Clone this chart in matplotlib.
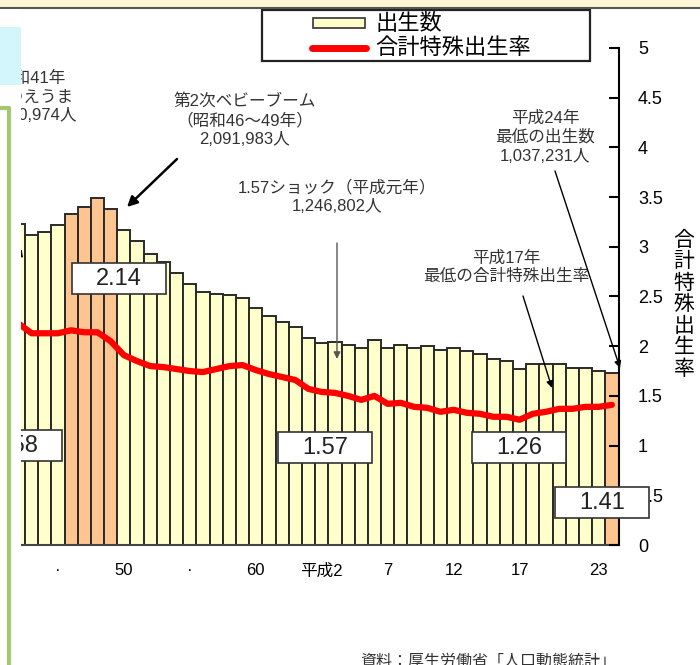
import matplotlib
matplotlib.use("Agg")
import matplotlib.pyplot as plt
from matplotlib.patches import Rectangle, FancyArrowPatch
from matplotlib.lines import Line2D

plt.rcParams['font.family'] = ['Liberation Sans', 'Noto Sans CJK JP']

# births (bars) and total fertility rate (line), 1967-2012
years = list(range(1967, 2013))
births = [1935647, 1871839, 1889815, 1934239, 2000973, 2038682, 2091983, 2029989,
          1901440, 1832617, 1755100, 1708643, 1642580, 1576889, 1529455, 1515392,
          1508687, 1489780, 1431577, 1382946, 1346658, 1314006, 1246802, 1221585,
          1223245, 1208989, 1188282, 1238328, 1187064, 1206555, 1191665, 1203147,
          1177669, 1190547, 1170662, 1153855, 1123610, 1110721, 1062530, 1092674,
          1089818, 1091156, 1070035, 1071304, 1050806, 1037231]
tfr = [2.23, 2.13, 2.13, 2.13, 2.16, 2.14, 2.14, 2.05, 1.91, 1.85, 1.80, 1.79,
       1.77, 1.75, 1.74, 1.77, 1.80, 1.81, 1.76, 1.72, 1.69, 1.66, 1.57, 1.54,
       1.53, 1.50, 1.46, 1.50, 1.42, 1.43, 1.39, 1.38, 1.34, 1.36, 1.33, 1.32,
       1.29, 1.29, 1.26, 1.32, 1.34, 1.37, 1.37, 1.39, 1.39, 1.41]
highlight_years = [1971, 1972, 1973, 1974, 2012]

tick_years = [1970, 1975, 1980, 1985, 1990, 1995, 2000, 2005, 2011]
tick_labels = ['·', '50', '·', '60', '平成2', '7', '12', '17', '23']

W, H = 700, 665


def fx(x):
    return x / W


def fy(y):
    return 1 - y / H


fig = plt.figure(figsize=(7, 6.65), dpi=100)
ax = fig.add_axes([fx(21), fy(545), (618.5 - 21) / W, (545 - 48) / H])

colors = ['#FFC590' if y in highlight_years else '#FFFFCC' for y in years]
ax.bar(years, births, width=1.0, color=colors, edgecolor='#2a2a2a', linewidth=1.4)
ax.set_xlim(1967.2, 2012.5)
ax.set_ylim(0, 3000000)
ax.set_yticks([])
for s in ['left', 'right', 'top']:
    ax.spines[s].set_visible(False)
ax.spines['bottom'].set_color('#444444')
ax.spines['bottom'].set_linewidth(1.5)
ax.set_xticks(tick_years)
ax.set_xticklabels(tick_labels, fontsize=12)
ax.tick_params(axis='x', length=0, pad=13)

ax2 = ax.twinx()
ax2.plot(years, tfr, color='#FF0000', linewidth=4.5,
         solid_joinstyle='round', solid_capstyle='round')
ax2.set_ylim(0, 5)
ax2.set_yticks([0, 0.5, 1, 1.5, 2, 2.5, 3, 3.5, 4, 4.5, 5])
ax2.set_yticklabels(['0', '0.5', '1', '1.5', '2', '2.5', '3', '3.5', '4', '4.5', '5'])
ax2.tick_params(axis='y', direction='in', length=7, width=1.5, pad=14, labelsize=13)
for s in ['left', 'top', 'bottom']:
    ax2.spines[s].set_visible(False)
ax2.spines['right'].set_linewidth(1.5)

# vertical axis title, one character per row
for i, ch in enumerate('合計特殊出生率'):
    fig.text(fx(684), fy(240 + i * 21.5), ch, ha='center', va='center', fontsize=15)

# value boxes
boxes = [(-32, 430, '1.58'), (72, 263, '2.14'), (278, 432, '1.57'),
         (472, 432, '1.26'), (555, 487, '1.41')]
for bx, by, label in boxes:
    fig.add_artist(Rectangle((fx(bx), fy(by + 31)), 94 / W, 31 / H,
                             transform=fig.transFigure, facecolor='white',
                             edgecolor='#333333', linewidth=1.2, zorder=4))
    fig.text(fx(bx + 47), fy(by + 16), label, ha='center', va='center',
             fontsize=17, color='#222222', zorder=5)

# annotations
txt = dict(ha='center', va='center', fontsize=12, color='#333333', linespacing=1.3, zorder=5)
fig.text(fx(32), fy(97), '昭和41年\nひのえうま\n1,360,974人', **txt)
fig.text(fx(245), fy(120), '第2次ベビーブーム\n（昭和46～49年）\n2,091,983人', **txt)
fig.text(fx(337), fy(197), '1.57ショック（平成元年）\n1,246,802人', **txt)
fig.text(fx(506), fy(267), '平成17年\n最低の合計特殊出生率', **txt)
fig.text(fx(545), fy(137), '平成24年\n最低の出生数\n1,037,231人', **txt)


def arrow(x0, y0, x1, y1, color='black', lw=1.0, ms=10):
    fig.add_artist(FancyArrowPatch(
        (fx(x0), fy(y0)), (fx(x1), fy(y1)), transform=fig.transFigure,
        arrowstyle='-|>', mutation_scale=ms, color=color, linewidth=lw,
        shrinkA=0, shrinkB=0, zorder=6))


arrow(177, 159, 127, 207, lw=1.8, ms=15)
arrow(337, 243, 337, 359, color='#555555', lw=1.0, ms=10)
arrow(523, 296, 552, 388, lw=1.0, ms=10)
arrow(555, 171, 620, 368, lw=1.0, ms=10)
arrow(5, 232, 23, 258, lw=1.0, ms=10)

# legend
fig.add_artist(Rectangle((fx(262), fy(61)), (590 - 262) / W, 51 / H,
                         transform=fig.transFigure, facecolor='white',
                         edgecolor='#222222', linewidth=1.6, zorder=4))
fig.add_artist(Rectangle((fx(313), fy(28)), 52 / W, 10 / H, transform=fig.transFigure,
                         facecolor='#FFFFCC', edgecolor='#333333', linewidth=1.2, zorder=5))
fig.add_artist(Line2D([fx(312), fx(366)], [fy(48), fy(48)], color='#FF0000',
                      linewidth=5, solid_capstyle='round', zorder=5))
fig.text(fx(375), fy(24), '出生数', ha='left', va='center', fontsize=16, zorder=5)
fig.text(fx(375), fy(48), '合計特殊出生率', ha='left', va='center', fontsize=16, zorder=5)

fig.text(fx(360), fy(661), '資料：厚生労働省「人口動態統計」', ha='left', va='center',
         fontsize=11.5, color='#333333')

# surrounding slide elements
fig.add_artist(Rectangle((0, fy(8)), 1, 8 / H, transform=fig.transFigure,
                         facecolor='#FCF5D6', edgecolor='none', zorder=9))
fig.add_artist(Line2D([0, 1], [fy(8), fy(8)], color='#555555', linewidth=1.5, zorder=9))
fig.add_artist(Rectangle((0, 0), fx(21), fy(9), transform=fig.transFigure,
                         facecolor='white', edgecolor='none', zorder=10))
fig.add_artist(Rectangle((0, fy(85)), fx(21), 58 / H, transform=fig.transFigure,
                         facecolor='#D2F6FB', edgecolor='none', zorder=11))
fig.add_artist(Line2D([0, fx(9), fx(9)], [fy(108), fy(108), 0], color='#A6C86C',
                      linewidth=3, solid_joinstyle='round', zorder=12))

fig.savefig('out.png', dpi=100)
